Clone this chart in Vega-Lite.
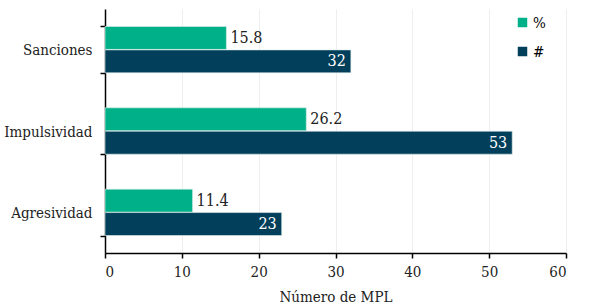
{
  "$schema": "https://vega.github.io/schema/vega-lite/v6.json",
  "width": 461,
  "height": 244,
  "autosize": "none",
  "padding": {"left": 105, "top": 9, "right": 23, "bottom": 55},
  "background": "white",
  "config": {
    "view": {"stroke": null},
    "font": "DejaVu Serif Condensed",
    "axis": {"labelColor": "#222", "titleColor": "#222"}
  },
  "data": {
    "values": [
      {"cat": "Sanciones", "serie": "%", "valor": 15.8},
      {"cat": "Sanciones", "serie": "#", "valor": 32},
      {"cat": "Impulsividad", "serie": "%", "valor": 26.2},
      {"cat": "Impulsividad", "serie": "#", "valor": 53},
      {"cat": "Agresividad", "serie": "%", "valor": 11.4},
      {"cat": "Agresividad", "serie": "#", "valor": 23}
    ]
  },
  "encoding": {
    "y": {
      "field": "cat", "type": "nominal",
      "sort": ["Sanciones", "Impulsividad", "Agresividad"],
      "scale": {"paddingInner": 0.43, "paddingOuter": 0.215},
      "axis": {"title": null, "tickBand": "extent", "grid": false, "domainColor": "#000", "domainWidth": 1.5, "tickColor": "#000", "tickWidth": 1.5, "tickSize": 5, "labelFontSize": 15, "labelPadding": 8, "labelFontWeight": "normal"}
    },
    "yOffset": {"field": "serie", "type": "nominal", "sort": ["%", "#"], "scale": {"paddingInner": 0.02}},
    "x": {
      "field": "valor", "type": "quantitative",
      "scale": {"domain": [0, 60], "nice": false},
      "axis": {"title": "Número de MPL", "values": [0, 10, 20, 30, 40, 50, 60], "grid": true, "gridColor": "#eeeeee", "domainColor": "#000", "domainWidth": 1.5, "tickColor": "#000", "tickWidth": 1.5, "tickSize": 5, "labelFontSize": 15, "labelPadding": 6, "titleFontSize": 15, "titleFontWeight": "normal", "titlePadding": 10}
    }
  },
  "layer": [
    {
      "mark": {"type": "bar", "stroke": "#dfeee9", "strokeWidth": 0.6},
      "encoding": {
        "color": {
          "field": "serie", "type": "nominal",
          "scale": {"domain": ["%", "#"], "range": ["#00b088", "#023f5b"]},
          "legend": {"title": null, "orient": "none", "legendX": 410, "legendY": 6, "symbolType": "square", "symbolSize": 90, "symbolStrokeWidth": 0, "labelFontSize": 15, "rowPadding": 13, "labelOffset": 3, "padding": 0}
        }
      }
    },
    {
      "transform": [{"filter": "datum.serie === '%'"}],
      "mark": {"type": "text", "align": "left", "baseline": "middle", "dx": 4, "fontSize": 16, "color": "#222"},
      "encoding": {"text": {"field": "valor", "type": "quantitative", "format": ".1f"}}
    },
    {
      "transform": [{"filter": "datum.serie === '#'"}],
      "mark": {"type": "text", "align": "right", "baseline": "middle", "dx": -5, "fontSize": 16, "color": "white"},
      "encoding": {"text": {"field": "valor", "type": "quantitative", "format": "d"}}
    }
  ]
}
